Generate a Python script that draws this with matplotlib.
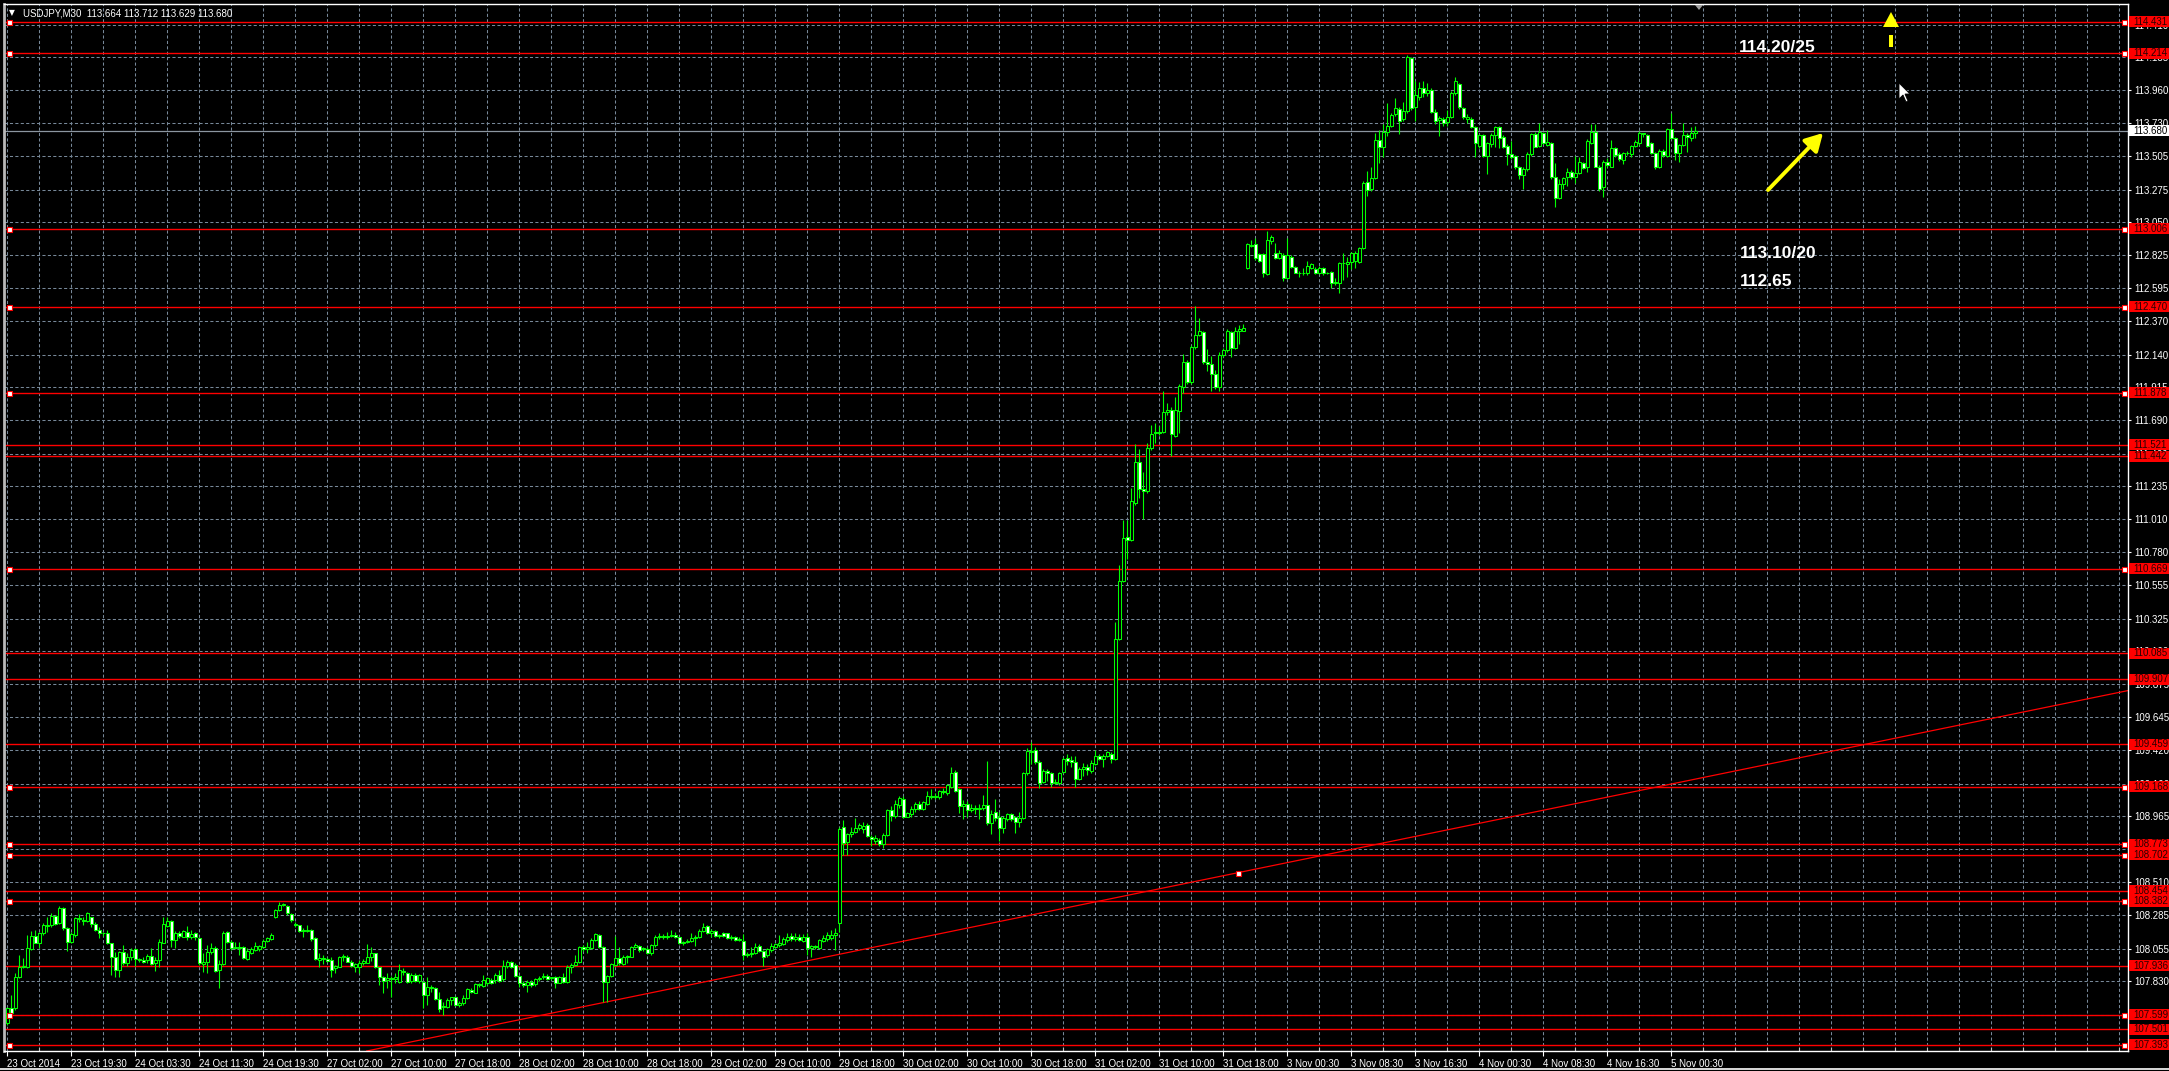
import numpy as np
import matplotlib
matplotlib.use("Agg")
import matplotlib.pyplot as plt
import matplotlib.transforms as mtransforms
from matplotlib.patches import Rectangle, Polygon
from matplotlib.lines import Line2D

# ---------------- data (USDJPY M30) ----------------
OPEN = [107.541,107.644,107.644,107.862,107.926,107.930,108.050,108.141,108.095,108.160,
108.210,108.217,108.279,108.228,108.332,108.194,108.102,108.148,108.263,108.251,
108.244,108.270,108.222,108.183,108.164,108.160,108.091,107.999,107.907,108.034,
107.958,107.999,108.050,107.981,107.976,107.976,108.004,107.958,107.976,108.095,
108.210,108.242,108.114,108.160,108.137,108.171,108.132,108.160,108.125,107.949,
107.965,108.034,108.056,107.907,107.949,108.169,108.102,108.061,108.063,108.063,
107.981,108.027,108.045,108.050,108.063,108.109,108.123,108.274,108.320,108.352,
108.348,108.293,108.224,108.215,108.183,108.178,108.183,108.125,107.976,107.990,
107.981,107.976,107.919,107.930,107.995,107.999,107.965,107.926,107.926,107.953,
107.958,107.995,108.022,107.926,107.857,107.839,107.850,107.843,107.827,107.903,
107.889,107.834,107.873,107.834,107.828,107.736,107.789,107.782,107.706,107.656,
107.651,107.702,107.720,107.667,107.679,107.713,107.770,107.752,107.811,107.798,
107.816,107.839,107.839,107.870,107.843,107.935,107.965,107.942,107.866,107.821,
107.805,107.828,107.811,107.843,107.857,107.866,107.850,107.857,107.821,107.857,
107.828,107.931,107.942,107.965,108.064,108.050,108.057,108.114,108.149,108.064,
107.828,107.866,107.942,107.988,107.949,107.995,107.999,108.068,108.073,108.050,
108.050,108.022,108.080,108.133,108.142,108.133,108.142,108.149,108.133,108.103,
108.103,108.110,108.126,108.133,108.178,108.210,108.160,108.178,108.142,108.160,
108.160,108.126,108.133,108.114,108.110,108.011,108.018,108.027,108.073,108.041,
108.011,108.045,108.064,108.080,108.087,108.114,108.142,108.119,108.137,108.110,
108.133,108.057,108.073,108.057,108.110,108.119,108.126,108.146,108.229,108.889,
108.790,108.843,108.859,108.882,108.875,108.902,108.821,108.794,108.799,108.772,
108.834,109.006,108.970,109.044,109.087,108.962,108.978,109.017,109.052,109.017,
109.052,109.106,109.098,109.098,109.142,109.125,109.169,109.269,109.152,109.033,
109.052,109.011,109.025,109.017,109.025,109.044,108.916,108.997,108.962,108.881,
108.943,108.978,108.957,108.924,108.951,109.261,109.413,109.419,109.337,109.201,
109.277,109.261,109.196,109.196,109.269,109.364,109.351,109.337,109.223,109.288,
109.305,109.277,109.324,109.378,109.359,109.378,109.392,109.359,110.185,110.582,
110.887,110.865,111.118,111.403,111.218,111.199,111.498,111.599,111.607,111.607,
111.743,111.756,111.580,111.751,111.919,112.088,111.952,112.191,112.278,112.295,
112.088,112.077,112.006,111.919,112.137,112.170,112.295,112.186,112.300,112.305,
112.733,112.894,112.900,112.832,112.832,112.694,112.923,112.841,112.802,112.825,
112.664,112.813,112.740,112.703,112.699,112.703,112.733,112.726,112.703,112.733,
112.699,112.710,112.630,112.634,112.767,112.763,112.779,112.786,112.779,112.871,
113.329,113.276,113.352,113.616,113.565,113.673,113.712,113.795,113.827,113.758,
113.817,114.177,113.840,113.914,113.971,113.937,113.960,113.811,113.753,113.758,
113.742,113.776,113.937,114.001,113.834,113.758,113.758,113.707,113.574,113.650,
113.506,113.588,113.650,113.703,113.639,113.574,113.519,113.506,113.428,113.375,
113.414,113.519,113.657,113.574,113.662,113.581,113.597,113.359,113.214,113.313,
113.359,113.398,113.363,113.391,113.460,113.428,113.597,113.673,113.432,113.290,
113.467,113.432,113.558,113.519,113.478,113.524,113.519,113.574,113.593,113.662,
113.650,113.593,113.529,113.428,113.542,113.506,113.689,113.627,113.524,113.581,
113.650,113.627,113.664]

HIGH = [107.655,107.735,107.884,108.011,107.988,108.148,108.178,108.183,108.171,108.228,
108.274,108.297,108.286,108.348,108.343,108.205,108.171,108.274,108.293,108.274,
108.309,108.274,108.240,108.205,108.171,108.183,108.095,108.034,108.040,108.079,
108.027,108.056,108.056,107.988,107.995,108.017,108.056,107.995,108.118,108.274,
108.270,108.251,108.178,108.178,108.183,108.210,108.183,108.171,108.137,108.022,
108.079,108.095,108.072,107.976,108.178,108.178,108.114,108.102,108.102,108.072,
108.056,108.063,108.102,108.079,108.118,108.132,108.160,108.325,108.377,108.366,
108.352,108.297,108.240,108.217,108.194,108.217,108.187,108.132,108.027,108.011,
107.995,107.995,107.942,108.004,108.017,108.008,107.976,107.958,107.976,107.981,
108.086,108.063,108.027,107.930,107.866,107.884,107.866,107.884,107.949,107.919,
107.896,107.884,107.884,107.880,107.834,107.861,107.805,107.789,107.759,107.690,
107.713,107.724,107.729,107.697,107.736,107.782,107.782,107.816,107.816,107.873,
107.861,107.850,107.885,107.908,107.977,107.977,107.972,107.954,107.873,107.834,
107.839,107.839,107.850,107.866,107.889,107.880,107.861,107.866,107.866,107.885,
107.942,107.954,108.011,108.073,108.080,108.103,108.126,108.165,108.155,108.073,
107.873,107.954,108.142,108.064,108.011,108.011,108.073,108.096,108.080,108.068,
108.064,108.087,108.149,108.160,108.155,108.171,108.183,108.171,108.137,108.110,
108.119,108.160,108.149,108.188,108.229,108.217,108.188,108.183,108.155,108.171,
108.165,108.149,108.142,108.133,108.155,108.034,108.064,108.091,108.087,108.045,
108.057,108.091,108.096,108.149,108.133,108.160,108.160,108.160,108.155,108.155,
108.160,108.080,108.080,108.119,108.149,108.171,108.183,108.194,108.893,108.940,
108.852,108.893,108.951,108.917,108.924,108.916,108.834,108.834,108.815,108.853,
109.017,109.033,109.079,109.106,109.106,108.997,109.033,109.065,109.071,109.071,
109.142,109.152,109.125,109.147,109.161,109.188,109.305,109.283,109.161,109.079,
109.071,109.052,109.044,109.052,109.114,109.343,109.011,109.087,108.997,108.970,
108.989,108.989,108.970,108.997,109.269,109.432,109.479,109.440,109.351,109.288,
109.288,109.269,109.223,109.269,109.370,109.392,109.378,109.378,109.305,109.332,
109.324,109.351,109.424,109.392,109.392,109.413,109.405,110.302,110.691,111.001,
111.001,111.226,111.525,111.490,111.335,111.533,111.653,111.669,111.648,111.887,
111.805,111.778,111.849,111.941,112.142,112.104,112.205,112.477,112.392,112.305,
112.178,112.131,112.034,112.159,112.186,112.314,112.305,112.327,112.341,112.354,
112.910,112.928,112.939,112.841,112.836,112.992,112.962,112.910,112.859,112.836,
112.939,112.825,112.749,112.717,112.733,112.786,112.772,112.740,112.749,112.740,
112.710,112.717,112.664,112.779,112.836,112.809,112.848,112.855,112.882,113.336,
113.405,113.428,113.666,113.684,113.726,113.872,113.804,113.902,113.840,113.879,
114.200,114.184,114.024,114.017,114.024,114.005,113.971,113.827,113.781,113.772,
113.822,113.955,114.051,114.005,113.840,113.795,113.776,113.712,113.657,113.657,
113.604,113.666,113.712,113.712,113.650,113.588,113.611,113.512,113.437,113.428,
113.535,113.666,113.673,113.735,113.673,113.684,113.604,113.455,113.345,113.363,
113.421,113.409,113.506,113.496,113.467,113.620,113.726,113.726,113.444,113.478,
113.490,113.616,113.565,113.535,113.535,113.542,113.581,113.616,113.680,113.666,
113.657,113.604,113.535,113.551,113.551,113.696,113.799,113.634,113.588,113.735,
113.666,113.703,113.712]

LOW = [107.529,107.605,107.632,107.850,107.919,107.919,108.045,108.091,108.056,108.148,
108.171,108.205,108.217,108.224,108.183,108.040,108.091,108.137,108.240,108.217,
108.240,108.205,108.178,108.125,108.141,108.086,107.873,107.857,107.862,107.942,
107.935,107.976,107.935,107.965,107.953,107.953,107.942,107.903,107.930,108.091,
108.205,108.063,108.056,108.125,108.132,108.114,108.118,108.114,107.942,107.896,
107.889,108.017,107.896,107.781,107.942,108.095,108.045,108.050,108.011,107.981,
107.976,108.017,108.040,108.040,108.056,108.102,108.114,108.263,108.316,108.348,
108.286,108.240,108.205,108.171,108.132,108.171,108.109,107.976,107.926,107.949,
107.965,107.857,107.889,107.926,107.972,107.960,107.926,107.896,107.889,107.942,
107.953,107.972,107.919,107.804,107.747,107.781,107.719,107.820,107.820,107.873,
107.820,107.820,107.827,107.820,107.644,107.667,107.759,107.702,107.621,107.598,
107.644,107.667,107.660,107.656,107.667,107.706,107.747,107.747,107.793,107.789,
107.805,107.811,107.816,107.828,107.834,107.919,107.919,107.857,107.789,107.793,
107.759,107.793,107.798,107.834,107.848,107.839,107.839,107.782,107.816,107.821,
107.821,107.885,107.935,107.954,108.041,108.022,108.050,108.110,108.057,107.690,
107.690,107.861,107.935,107.942,107.942,107.954,107.995,108.057,108.034,108.041,
108.018,108.011,108.068,108.119,108.119,108.119,108.133,108.126,108.087,108.080,
108.091,108.103,108.073,108.126,108.171,108.155,108.137,108.133,108.126,108.133,
108.119,108.114,108.110,108.110,107.977,107.995,107.999,108.018,108.034,107.935,
107.999,108.034,108.057,108.068,108.080,108.103,108.110,108.110,108.110,108.103,
108.011,107.999,108.050,108.050,108.103,108.110,108.114,108.045,108.171,108.699,
108.699,108.825,108.848,108.871,108.848,108.821,108.761,108.772,108.761,108.745,
108.826,108.930,108.951,109.025,108.951,108.957,108.962,108.997,109.006,109.006,
109.044,109.087,109.087,109.087,109.120,109.114,109.161,109.133,108.989,108.943,
108.962,108.997,108.978,108.943,109.011,108.908,108.843,108.935,108.794,108.853,
108.930,108.935,108.853,108.889,108.943,109.250,109.324,109.324,109.161,109.196,
109.207,109.169,109.188,109.180,109.261,109.316,109.305,109.169,109.215,109.242,
109.250,109.261,109.316,109.351,109.305,109.370,109.332,109.351,110.174,110.574,
110.737,110.859,111.109,111.153,111.009,111.191,111.485,111.533,111.588,111.599,
111.724,111.444,111.572,111.599,111.879,111.941,111.941,112.178,112.267,112.077,
112.028,111.887,111.906,111.892,112.123,112.159,112.123,112.178,112.213,112.300,
112.726,112.882,112.790,112.779,112.671,112.687,112.900,112.795,112.795,112.648,
112.657,112.733,112.699,112.671,112.687,112.687,112.726,112.694,112.694,112.687,
112.694,112.596,112.618,112.566,112.653,112.676,112.726,112.733,112.772,112.864,
113.231,113.267,113.345,113.460,113.501,113.643,113.707,113.781,113.657,113.749,
113.804,113.822,113.749,113.891,113.909,113.918,113.804,113.726,113.643,113.712,
113.712,113.765,113.925,113.827,113.758,113.735,113.696,113.501,113.558,113.501,
113.382,113.570,113.565,113.558,113.558,113.444,113.483,113.414,113.345,113.276,
113.405,113.506,113.565,113.565,113.588,113.574,113.345,113.153,113.208,113.276,
113.299,113.345,113.322,113.382,113.414,113.398,113.588,113.428,113.267,113.221,
113.428,113.428,113.496,113.474,113.451,113.512,113.501,113.565,113.581,113.639,
113.570,113.519,113.414,113.421,113.501,113.501,113.620,113.478,113.467,113.574,
113.535,113.611,113.629]

CLOSE = [107.644,107.609,107.862,107.930,107.935,108.056,108.141,108.095,108.160,108.217,
108.217,108.279,108.224,108.332,108.194,108.102,108.155,108.263,108.256,108.247,
108.297,108.222,108.183,108.164,108.160,108.091,107.999,107.907,108.034,107.958,
107.999,108.045,107.981,107.976,107.965,108.004,107.949,107.976,108.102,108.224,
108.242,108.114,108.160,108.141,108.173,108.132,108.155,108.132,107.953,107.965,
108.034,108.056,107.903,107.949,108.164,108.102,108.056,108.063,108.061,107.988,
108.040,108.050,108.072,108.072,108.109,108.125,108.146,108.320,108.354,108.361,
108.297,108.251,108.217,108.178,108.173,108.183,108.118,107.981,107.990,107.981,
107.972,107.907,107.935,107.995,108.004,107.965,107.935,107.949,107.953,107.972,
107.995,108.022,107.926,107.857,107.834,107.850,107.843,107.857,107.907,107.894,
107.827,107.873,107.834,107.873,107.736,107.793,107.782,107.706,107.637,107.660,
107.702,107.720,107.667,107.683,107.717,107.775,107.759,107.811,107.805,107.839,
107.850,107.821,107.870,107.834,107.935,107.965,107.931,107.866,107.816,107.802,
107.828,107.805,107.843,107.850,107.866,107.848,107.857,107.821,107.857,107.828,
107.931,107.942,107.965,108.064,108.050,108.064,108.114,108.153,108.064,107.828,
107.866,107.949,107.988,107.954,107.999,108.004,108.064,108.080,108.045,108.057,
108.022,108.080,108.133,108.142,108.133,108.142,108.149,108.133,108.096,108.091,
108.110,108.126,108.133,108.178,108.206,108.160,108.178,108.142,108.149,108.142,
108.126,108.133,108.114,108.123,108.011,108.018,108.027,108.068,108.041,107.999,
108.050,108.073,108.087,108.091,108.119,108.137,108.119,108.137,108.114,108.137,
108.057,108.073,108.064,108.114,108.126,108.149,108.149,108.160,108.875,108.779,
108.843,108.859,108.882,108.905,108.897,108.826,108.807,108.815,108.772,108.834,
109.011,108.970,109.052,109.093,108.962,108.989,109.017,109.052,109.017,109.060,
109.106,109.098,109.106,109.142,109.133,109.180,109.261,109.142,109.033,109.052,
109.011,109.025,109.017,109.025,109.044,108.916,108.984,108.951,108.881,108.951,
108.978,108.943,108.924,108.951,109.261,109.413,109.405,109.337,109.196,109.277,
109.261,109.196,109.201,109.261,109.359,109.343,109.337,109.223,109.288,109.305,
109.283,109.332,109.378,109.359,109.378,109.405,109.359,110.185,110.582,110.881,
110.865,111.131,111.403,111.218,111.199,111.498,111.593,111.607,111.599,111.743,
111.756,111.593,111.756,111.925,112.088,111.952,112.191,112.278,112.300,112.088,
112.077,112.006,111.919,112.137,112.170,112.300,112.186,112.305,112.314,112.322,
112.900,112.887,112.802,112.786,112.703,112.928,112.951,112.802,112.836,112.664,
112.825,112.740,112.703,112.699,112.703,112.749,112.763,112.703,112.733,112.699,
112.703,112.630,112.641,112.767,112.772,112.779,112.836,112.841,112.871,113.322,
113.272,113.352,113.616,113.565,113.673,113.712,113.788,113.834,113.749,113.817,
114.184,113.834,113.925,113.971,113.937,113.960,113.811,113.749,113.765,113.730,
113.776,113.937,114.024,113.840,113.772,113.772,113.707,113.593,113.650,113.506,
113.593,113.650,113.703,113.627,113.565,113.519,113.496,113.428,113.375,113.414,
113.519,113.657,113.570,113.673,113.593,113.604,113.363,113.214,113.313,113.352,
113.398,113.359,113.391,113.467,113.421,113.611,113.673,113.432,113.276,113.467,
113.444,113.558,113.512,113.483,113.529,113.529,113.574,113.604,113.666,113.657,
113.574,113.524,113.428,113.542,113.512,113.689,113.627,113.524,113.581,113.650,
113.639,113.662,113.680]

TIME_LABELS = ["23 Oct 2014", "23 Oct 19:30", "24 Oct 03:30", "24 Oct 11:30", "24 Oct 19:30",
               "27 Oct 02:00", "27 Oct 10:00", "27 Oct 18:00", "28 Oct 02:00", "28 Oct 10:00",
               "28 Oct 18:00", "29 Oct 02:00", "29 Oct 10:00", "29 Oct 18:00", "30 Oct 02:00",
               "30 Oct 10:00", "30 Oct 18:00", "31 Oct 02:00", "31 Oct 10:00", "31 Oct 18:00",
               "3 Nov 00:30", "3 Nov 08:30", "3 Nov 16:30", "4 Nov 00:30", "4 Nov 08:30",
               "4 Nov 16:30", "5 Nov 00:30"]

GRID_PRICES = [114.410, 114.185, 113.960, 113.730, 113.505, 113.275, 113.050, 112.825,
               112.595, 112.370, 112.140, 111.915, 111.690, 111.460, 111.235, 111.010,
               110.780, 110.555, 110.325, 110.100, 109.875, 109.645, 109.420, 109.190,
               108.965, 108.740, 108.510, 108.285, 108.055, 107.830, 107.600]

LEVELS = [114.431, 114.214, 113.006, 112.470, 111.878, 111.521, 111.442, 110.669, 110.085,
          109.907, 109.459, 109.168, 108.773, 108.702, 108.454, 108.382, 107.936, 107.599,
          107.501, 107.393]
LEVEL_SELECTED = [True, True, True, True, True, False, False, True, False,
                  False, False, True, True, True, False, True, False, True,
                  False, True]

TREND_P1 = (213.25, 108.045)
TREND_P2 = (307.75, 108.577)
BID = 113.680
HEADER = "USDJPY,M30  113.664 113.712 113.629 113.680"
NOTES = ["114.20/25", "113.10/20", "112.65"]

# ---------------- figure ----------------
W, H = 2169, 1071
fig = plt.figure(figsize=(W / 100, H / 100), dpi=100, facecolor="black")
AX_L, AX_R, AX_T, AX_B = 4, 2128, 4, 1051
ax = fig.add_axes([AX_L / W, 1 - AX_B / H, (AX_R - AX_L) / W, (AX_B - AX_T) / H])
ax.set_facecolor("black")
n = len(OPEN)
x = np.arange(n)
ax.set_xlim(-0.75, 530.25)
ax.set_ylim(107.3507, 114.5515)

FONT = ["Liberation Sans", "DejaVu Sans"]
LIME = "#00ff00"
RED = "#ff0000"
GRIDC = "#778899"

# grid
ax.set_yticks(GRID_PRICES)
ax.set_yticklabels([f"{p:.3f}" for p in GRID_PRICES])
major = list(range(0, 16 * len(TIME_LABELS), 16))
minor = [b for b in range(0, 530, 8) if b not in major]
ax.set_xticks(major)
ax.set_xticklabels(TIME_LABELS)
ax.set_xticks(minor, minor=True)
ax.grid(True, which="both", color=GRIDC, linestyle=(0, (3.0, 2.2)), linewidth=0.75, zorder=0)
ax.set_axisbelow(True)

ax.yaxis.tick_right()
ax.tick_params(axis="y", which="major", colors="white", labelcolor="white", labelsize=7,
               length=2.5, width=0.8, pad=2.2, direction="out")
ax.tick_params(axis="x", which="major", colors="white", labelcolor="white", labelsize=7,
               length=3.5, width=0.8, pad=2.5, direction="out")
ax.tick_params(axis="x", which="minor", colors="#c0c0c0", length=3, width=0.8, direction="in")
for lab in ax.get_xticklabels():
    lab.set_ha("left")
    lab.set_family(FONT)
for lab in ax.get_yticklabels():
    lab.set_family(FONT)

for side in ["top", "bottom", "right"]:
    ax.spines[side].set_color("white")
    ax.spines[side].set_linewidth(1.0)
ax.spines["left"].set_color("#b8b8b8")
ax.spines["left"].set_linewidth(2.0)

# horizontal levels
for p, sel in zip(LEVELS, LEVEL_SELECTED):
    ax.axhline(p, color=RED, lw=1.0, zorder=2)
    if sel:
        ax.plot([0.6, 529.3], [p, p], "s", ms=3.6, mfc="white", mec=RED, mew=0.8,
                zorder=7, clip_on=False)

# trend line
ax.axline(TREND_P1, TREND_P2, color=RED, lw=0.9, zorder=2)
ax.plot([TREND_P2[0]], [TREND_P2[1]], "s", ms=3.6, mfc="white", mec=RED, mew=0.8, zorder=7)

# bid line
ax.axhline(BID, color="#8c96a0", lw=0.9, zorder=2)

# candles
O = np.array(OPEN); Hh = np.array(HIGH); Lw = np.array(LOW); C = np.array(CLOSE)
ax.vlines(x, Lw, Hh, colors=LIME, lw=0.8, zorder=4)
fills = ["black" if c >= o else "white" for o, c in zip(O, C)]
ax.bar(x, np.abs(C - O), bottom=np.minimum(O, C), width=0.75, color=fills,
       edgecolor=LIME, linewidth=0.75, zorder=5)

# right-side price labels
btf = mtransforms.blended_transform_factory(fig.transFigure, ax.transData)
ppu = (AX_B - AX_T) / (114.5515 - 107.3507)
box_h = 11 / ppu


def price_box(p, bg, fg):
    fig.add_artist(Rectangle((2129 / W, p - box_h / 2), 40 / W, box_h, transform=btf,
                             facecolor=bg, edgecolor="none", zorder=5))
    fig.add_artist(matplotlib.text.Text(2133 / W, p, f"{p:.3f}", transform=btf, color=fg,
                                        fontsize=7, va="center", ha="left", family=FONT,
                                        zorder=6))


for p in LEVELS:
    price_box(p, RED, "#2a0000")
price_box(BID, "white", "black")

# header
fig.text(9 / W, 1 - 13 / H, "\u25bc", color="white", fontsize=5.5, va="center", ha="left",
         family=["DejaVu Sans"])
fig.text(23 / W, 1 - 13 / H, HEADER, color="white", fontsize=7, va="center", ha="left",
         family=FONT)
# chart shift marker
fig.add_artist(Polygon([(1695 / W, 1 - 5 / H), (1703 / W, 1 - 5 / H), (1699 / W, 1 - 10 / H)],
                       closed=True, transform=fig.transFigure, facecolor="#a0a0a0",
                       edgecolor="none", zorder=6))

# annotations
note_pos = [(1739, 47), (1740, 253), (1740, 282)]
for t, (px, py) in zip(NOTES, note_pos):
    fig.text(px / W, 1 - py / H, t, color="white", fontsize=12.5, fontweight="bold",
             va="center", ha="left", family=FONT)

# yellow diagonal arrow
ax.annotate("", xy=(1823, H - 133), xytext=(1768, H - 190), xycoords="figure pixels",
            textcoords="figure pixels",
            arrowprops=dict(arrowstyle="-|>,head_length=0.8,head_width=0.45", color="#ffff00",
                            lw=2.8, shrinkA=0, shrinkB=0, mutation_scale=13))
# yellow up arrow
fig.add_artist(Polygon([(1891 / W, 1 - 12 / H), (1883 / W, 1 - 27 / H), (1899 / W, 1 - 27 / H)],
                       closed=True, transform=fig.transFigure, facecolor="#ffff00",
                       edgecolor="none", zorder=6))
fig.add_artist(Rectangle((1889 / W, 1 - 47 / H), 4 / W, 12 / H, transform=fig.transFigure,
                         facecolor="#ffff00", edgecolor="none", zorder=6))
# mouse cursor
cur = [(1899, 83), (1899, 99), (1903, 95), (1906, 102), (1908, 101), (1905, 94), (1910, 94)]
fig.add_artist(Polygon([(a / W, 1 - b / H) for a, b in cur], closed=True,
                       transform=fig.transFigure, facecolor="white", edgecolor="black",
                       lw=0.6, zorder=8))

# window bottom line
fig.add_artist(Line2D([0, 1], [1 - 1068.5 / H, 1 - 1068.5 / H], transform=fig.transFigure,
                      color="white", lw=1.2))

fig.savefig("out.png", dpi=100, facecolor="black")
